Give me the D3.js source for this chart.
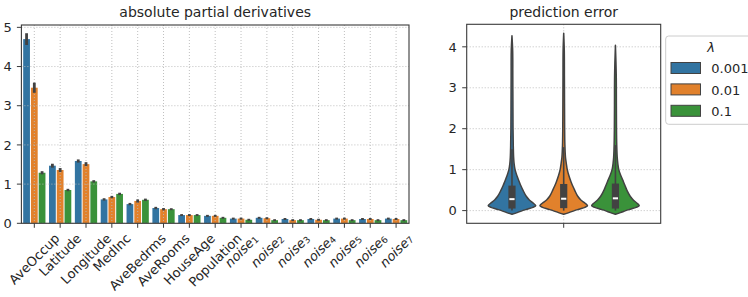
<!DOCTYPE html>
<html><head><meta charset="utf-8">
<script src="https://cdn.jsdelivr.net/npm/d3@7"></script>
<style>body{margin:0;background:#fff}svg{display:block;font-family:"DejaVu Sans",sans-serif}</style>
</head><body>
<svg id="c" width="748" height="297"></svg>
<script>
// ---------- data ----------
const categories = ["AveOccup","Latitude","Longitude","MedInc","AveBedrms","AveRooms","HouseAge","Population",
  "noise_1","noise_2","noise_3","noise_4","noise_5","noise_6","noise_7"];
const lambdas = ["0.001","0.01","0.1"];
const colors = ["#3274a1","#e1812c","#3a923a"];
const meanL1 = [4.70,1.47,1.59,0.61,0.49,0.39,0.21,0.19,0.12,0.14,0.11,0.11,0.12,0.11,0.12];
const meanL2 = [3.46,1.36,1.51,0.67,0.57,0.36,0.21,0.19,0.12,0.13,0.08,0.09,0.12,0.11,0.11];
const meanL3 = [1.29,0.85,1.07,0.75,0.60,0.36,0.21,0.14,0.09,0.08,0.08,0.08,0.08,0.08,0.08];
const errL1 = [0.15,0.05,0.04,0.03,0.03,0.03,0.025,0.025,0.025,0.025,0.025,0.025,0.025,0.025,0.025];
const errL2 = [0.13,0.05,0.05,0.03,0.04,0.03,0.025,0.025,0.025,0.025,0.025,0.025,0.025,0.025,0.025];
const errL3 = [0.04,0.03,0.03,0.03,0.03,0.025,0.025,0.025,0.025,0.025,0.025,0.025,0.025,0.025,0.025];
const yTicksLeft = [0,1,2,3,4,5];
const yTicksRight = [0,1,2,3,4];

// violin: value grid and relative density per lambda
const violinGrid = [-0.09,-0.05,0,0.04,0.08,0.12,0.18,0.26,0.35,0.5,0.6,0.7,0.85,1.0,1.15,1.3,1.6,2.0,2.6,3.3,3.9];
const densL1 = [0,0.22,0.44,0.67,0.88,1,0.9,0.73,0.6,0.46,0.38,0.31,0.21,0.13,0.09,0.07,0.055,0.045,0.04,0.035,0.03];
const densL2 = [0,0.22,0.45,0.68,0.89,1,0.9,0.72,0.59,0.46,0.38,0.31,0.22,0.15,0.11,0.075,0.05,0.04,0.035,0.03,0.025];
const densL3 = [0,0.21,0.43,0.66,0.87,1,0.91,0.75,0.62,0.48,0.41,0.34,0.23,0.14,0.10,0.075,0.055,0.045,0.04,0.035,0.0];
const maxL = [4.27,4.33,4.04];
const q1L = [0.05,0.06,0.05];
const medL = [0.28,0.29,0.30];
const q3L = [0.61,0.65,0.66];
const whiskL = [1.5,1.55,1.6];

// ---------- drawing ----------
const svg = d3.select("#c");
const TXT = "#262626", SPINE = "#3a3a3a", GRID = "#b8b8b8", ERR = "#424242";
const FS = 13;

// ===== left panel =====
const L = {x0:21.4, x1:409, y0:25, y1:223.3};
const xL = d3.scaleBand().domain(categories).range([L.x0, L.x1]);
const yL = d3.scaleLinear().domain([0,5.06]).range([L.y1, L.y0]);
const bw = xL.bandwidth();
const gL = svg.append("g");
const means = [meanL1,meanL2,meanL3], errs = [errL1,errL2,errL3];
const slot = bw*0.3;

means.forEach((arr,h)=>{
  gL.append("g").selectAll("rect").data(arr).join("rect")
    .attr("x",(d,i)=>xL(categories[i]) + bw/2 + (h-1)*slot - slot/2 + 0.5)
    .attr("width", slot-1)
    .attr("y", d=>yL(d)).attr("height", d=>yL(0)-yL(d))
    .attr("fill", colors[h]);
});
// grid (drawn over bars)
const gridL = gL.append("g").attr("stroke",GRID).attr("stroke-width",0.9).attr("stroke-dasharray","1,2");
gridL.selectAll("line.h").data(yTicksLeft).join("line").attr("class","h")
  .attr("x1",L.x0).attr("x2",L.x1).attr("y1",d=>yL(d)).attr("y2",d=>yL(d));
gridL.selectAll("line.v").data(categories).join("line").attr("class","v")
  .attr("x1",d=>xL(d)+bw/2).attr("x2",d=>xL(d)+bw/2).attr("y1",L.y0).attr("y2",L.y1);
// error bars
means.forEach((arr,h)=>{
  gL.append("g").selectAll("line").data(arr).join("line")
    .attr("x1",(d,i)=>xL(categories[i]) + bw/2 + (h-1)*slot)
    .attr("x2",(d,i)=>xL(categories[i]) + bw/2 + (h-1)*slot)
    .attr("y1",(d,i)=>yL(d-errs[h][i])).attr("y2",(d,i)=>yL(d+errs[h][i]))
    .attr("stroke",ERR).attr("stroke-width",2.8);
});
// spines
gL.append("rect").attr("x",L.x0).attr("y",L.y0).attr("width",L.x1-L.x0).attr("height",L.y1-L.y0)
  .attr("fill","none").attr("stroke",SPINE).attr("stroke-width",1.1);
// y ticks
const ytL = gL.append("g");
yTicksLeft.forEach(t=>{
  ytL.append("line").attr("x1",L.x0-4.5).attr("x2",L.x0).attr("y1",yL(t)).attr("y2",yL(t)).attr("stroke",SPINE).attr("stroke-width",1);
  ytL.append("text").attr("x",L.x0-9.5).attr("y",yL(t)).attr("dy","0.36em").attr("text-anchor","end")
    .attr("font-size",FS).attr("fill",TXT).text(t);
});
// x ticks and rotated labels
categories.forEach(c=>{
  const cx = xL(c)+bw/2;
  gL.append("line").attr("x1",cx).attr("x2",cx).attr("y1",L.y1).attr("y2",L.y1+4.5).attr("stroke",SPINE).attr("stroke-width",1);
  const t = gL.append("text").attr("font-size",FS).attr("fill",TXT).attr("text-anchor","middle").attr("dominant-baseline","central");
  if (c.startsWith("noise_")) {
    t.append("tspan").attr("font-style","italic").text("noise");
    t.append("tspan").attr("font-size",FS*0.7).attr("dy","0.3em").text(c.split("_")[1]);
  } else t.text(c);
  const len = t.node().getComputedTextLength();
  const H = FS*1.0;
  const cy = 231.5 + (len+H)*0.3536;
  t.attr("transform",`translate(${cx},${cy}) rotate(-45)`);
});
gL.append("text").attr("x",(L.x0+L.x1)/2).attr("y",17).attr("text-anchor","middle")
  .attr("font-size",14).attr("fill",TXT).text("absolute partial derivatives");

// ===== right panel =====
const R = {x0:466.7, x1:660.7, y0:24.3, y1:223.3};
const xR = d3.scaleBand().domain(["err"]).range([R.x0,R.x1]).paddingInner(0.2).paddingOuter(0.1);
const yR = d3.scaleLinear().domain([-0.31,4.55]).range([R.y1,R.y0]);
const gR = svg.append("g");
const dens = [densL1,densL2,densL3];
const rslot = xR.bandwidth()/3;
const wScale = d3.scaleLinear().domain([0,1]).range([0, rslot*0.46]);
const rc = xR("err")+xR.bandwidth()/2;

const gridR = gR.append("g").attr("stroke",GRID).attr("stroke-width",0.9).attr("stroke-dasharray","1,2");
gridR.selectAll("line").data(yTicksRight).join("line")
  .attr("x1",R.x0).attr("x2",R.x1).attr("y1",d=>yR(d)).attr("y2",d=>yR(d));
gridR.append("line").attr("x1",rc).attr("x2",rc).attr("y1",R.y0).attr("y2",R.y1);

dens.forEach((dd,h)=>{
  const cx = rc + (h-1)*rslot;
  const pts = violinGrid.map((v,i)=>({v, d: dd[i]}));
  if (dd[dd.length-1] === 0) pts.pop();
  pts.push({v: maxL[h], d: 0});
  const area = d3.area().curve(d3.curveCatmullRom.alpha(0.5))
    .y(p=>yR(p.v)).x0(p=>cx - wScale(p.d)).x1(p=>cx + wScale(p.d));
  gR.append("path").attr("d",area(pts)).attr("fill",colors[h]).attr("stroke",ERR).attr("stroke-width",1.5).attr("stroke-linejoin","round");
  gR.append("line").attr("x1",cx).attr("x2",cx).attr("y1",yR(0)).attr("y2",yR(whiskL[h]))
    .attr("stroke",ERR).attr("stroke-width",1.6);
  gR.append("rect").attr("x",cx-3.6).attr("width",7.2).attr("y",yR(q3L[h])).attr("height",yR(q1L[h])-yR(q3L[h]))
    .attr("fill",ERR);
  gR.append("rect").attr("x",cx-2.6).attr("width",5.2).attr("y",yR(medL[h])-1).attr("height",2).attr("fill","#fff");
});

gR.append("rect").attr("x",R.x0).attr("y",R.y0).attr("width",R.x1-R.x0).attr("height",R.y1-R.y0)
  .attr("fill","none").attr("stroke",SPINE).attr("stroke-width",1.1);
yTicksRight.forEach(t=>{
  gR.append("line").attr("x1",R.x0-4.5).attr("x2",R.x0).attr("y1",yR(t)).attr("y2",yR(t)).attr("stroke",SPINE).attr("stroke-width",1);
  gR.append("text").attr("x",R.x0-10).attr("y",yR(t)).attr("dy","0.36em").attr("text-anchor","end")
    .attr("font-size",FS).attr("fill",TXT).text(t);
});
gR.append("line").attr("x1",rc).attr("x2",rc).attr("y1",R.y1).attr("y2",R.y1+4.5).attr("stroke",SPINE).attr("stroke-width",1);
gR.append("text").attr("x",(R.x0+R.x1)/2).attr("y",17).attr("text-anchor","middle")
  .attr("font-size",14).attr("fill",TXT).text("prediction error");

// legend
const lg = svg.append("g");
lg.append("rect").attr("x",665.7).attr("y",36).attr("width",91).attr("height",88.3).attr("rx",3)
  .attr("fill","#fff").attr("fill-opacity",0.8).attr("stroke","#cccccc").attr("stroke-width",1);
lg.append("text").attr("x",711).attr("y",52).attr("text-anchor","middle").attr("font-size",FS)
  .attr("font-style","italic").attr("fill",TXT).text("λ");
lambdas.forEach((lab,i)=>{
  const y = 62.5 + i*21.4;
  lg.append("rect").attr("x",671).attr("y",y).attr("width",29.5).attr("height",11).attr("fill",colors[i])
    .attr("stroke",ERR).attr("stroke-width",1);
  lg.append("text").attr("x",711.3).attr("y",y+10.8).attr("font-size",FS).attr("fill",TXT).text(lab);
});
</script>
</body></html>
